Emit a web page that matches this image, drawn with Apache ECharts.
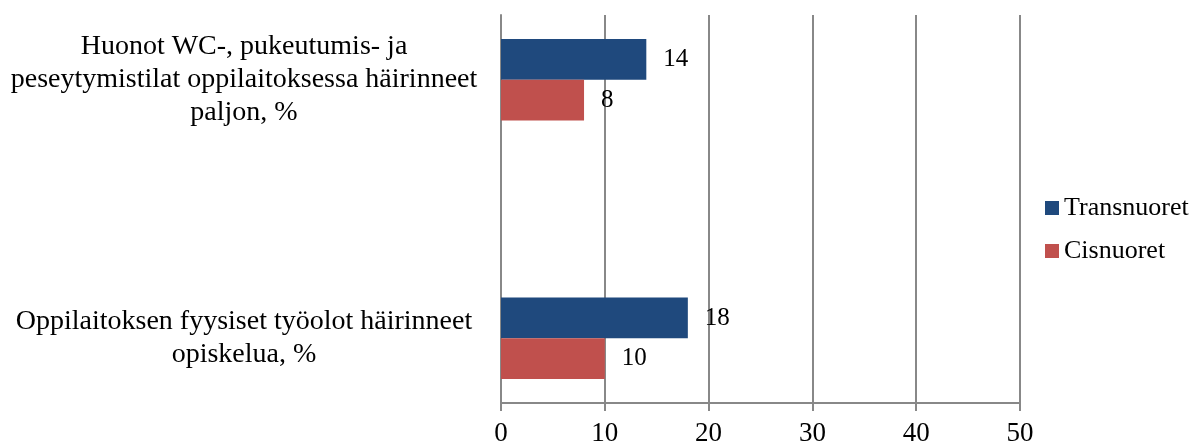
<!DOCTYPE html>
<html>
<head>
<meta charset="utf-8">
<script src="https://cdn.jsdelivr.net/npm/echarts@6/dist/echarts.min.js"></script>
<style>
html,body{margin:0;padding:0;background:#fff;}
#chart{width:1196px;height:447px;}
</style>
</head>
<body>
<div id="chart"></div>
<script>
// Categories (bottom to top); middle slot is empty in the original chart
var categories = [
  'Oppilaitoksen fyysiset työolot häirinneet\nopiskelua, %',
  '',
  'Huonot WC-, pukeutumis- ja\npeseytymistilat oppilaitoksessa häirinneet\npaljon, %'
];
var transnuoret = [18, null, 14];
var cisnuoret = [10, null, 8];
var seriesNames = ['Transnuoret', 'Cisnuoret'];
var xTicks = [0, 10, 20, 30, 40, 50];

var FONT = '"Liberation Serif", "Times New Roman", serif';
var GRAY = '#888888';

var chart = echarts.init(document.getElementById('chart'));
chart.setOption({
  animation: false,
  backgroundColor: '#ffffff',
  textStyle: { fontFamily: FONT, color: '#000' },
  grid: { left: 501, right: 176, top: 15, bottom: 42, containLabel: false },
  legend: {
    orient: 'vertical',
    left: 1040,
    top: 190,
    itemWidth: 14,
    itemHeight: 14,
    itemGap: 17,
    icon: 'rect',
    data: seriesNames,
    textStyle: { fontFamily: FONT, fontSize: 26, color: '#000' }
  },
  xAxis: {
    type: 'value',
    min: xTicks[0],
    max: xTicks[xTicks.length - 1],
    interval: 10,
    axisLine: { show: true, lineStyle: { color: GRAY, width: 2 } },
    axisTick: { show: true, length: 8, lineStyle: { color: GRAY, width: 2 } },
    splitLine: { show: true, lineStyle: { color: GRAY, width: 2 } },
    axisLabel: { fontFamily: FONT, fontSize: 27, color: '#000', margin: 17 }
  },
  yAxis: {
    type: 'category',
    data: categories,
    axisLine: { show: true, lineStyle: { color: GRAY, width: 2 } },
    axisTick: { show: false },
    splitLine: { show: false },
    axisLabel: {
      fontFamily: FONT, fontSize: 28, color: '#000',
      align: 'center', margin: 257, lineHeight: 33
    }
  },
  series: [
    {
      name: seriesNames[0],
      type: 'bar',
      data: transnuoret,
      barGap: '0%',
      barCategoryGap: '37%',
      itemStyle: { color: '#1F497D' },
      label: { show: true, position: 'right', distance: 17, fontFamily: FONT, fontSize: 25, color: '#000' }
    },
    {
      name: seriesNames[1],
      type: 'bar',
      data: cisnuoret,
      barGap: '0%',
      barCategoryGap: '37%',
      itemStyle: { color: '#C0504D' },
      label: { show: true, position: 'right', distance: 17, fontFamily: FONT, fontSize: 25, color: '#000' }
    }
  ]
});
</script>
</body>
</html>
